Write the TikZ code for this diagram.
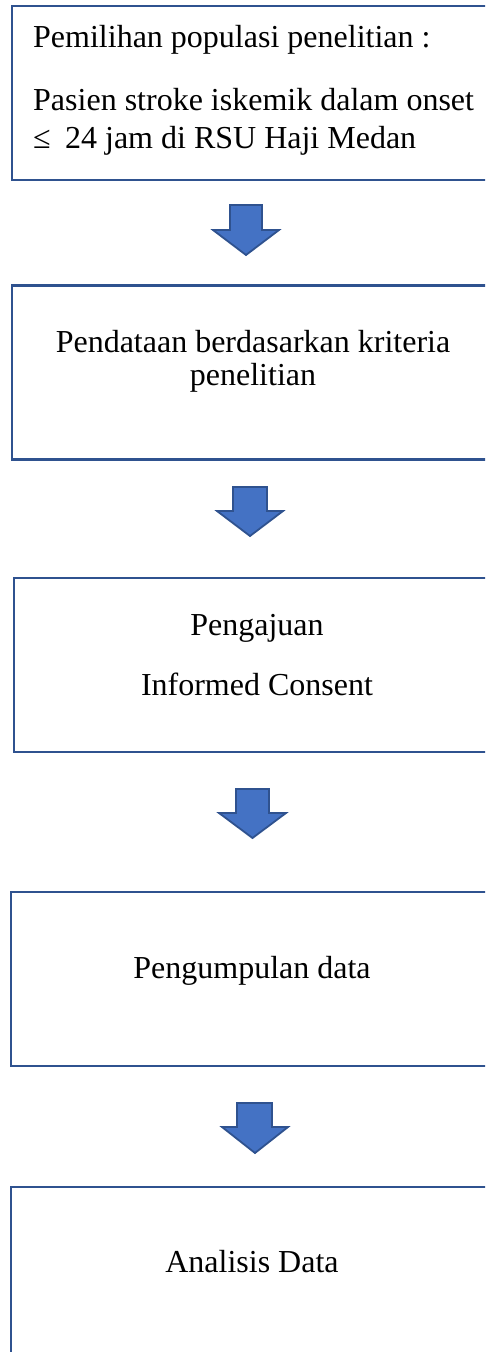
\documentclass[tikz,border=0pt]{standalone}
\usepackage{fontspec}
\setmainfont{Liberation Serif}
\definecolor{boxline}{HTML}{2F528F}
\definecolor{arrowfill}{HTML}{4472C4}
\begin{document}
\begin{tikzpicture}[x=1pt,y=-1pt,
  stage/.style={draw=boxline,line width=2.6pt,rectangle,inner sep=0pt,minimum width=482pt,minimum height=174pt},
  lbl/.style={inner sep=0pt,anchor=base,font=\fontsize{32}{38}\selectfont},
  blockarrow/.style={fill=arrowfill,draw=boxline,line width=1.8pt,line join=miter}]
\useasboundingbox (0,0) rectangle (485,1352);
\clip (0,0) rectangle (485,1352);
\fill[white] (0,0) rectangle (485,1352);

% boxes
\node[stage] (b1) at (253,93) {};
\node[stage] (b2) at (253,372.5) {};
\node[stage,minimum width=484pt] (b3) at (256,665) {};
\node[stage] (b4) at (252,979) {};
\node[stage] (b5) at (252,1274) {};

% texts
\node[lbl,anchor=base west] (t1a) at (33,47) {Pemilihan populasi penelitian :};
\node[lbl,anchor=base west] (t1b) at (33,110) {Pasien stroke iskemik dalam onset};
\node[lbl,anchor=base west] (t1c) at (33,148) {≤\hspace{0.2em} 24 jam di RSU Haji Medan};
\node[lbl] (t2a) at (253,352) {Pendataan berdasarkan kriteria};
\node[lbl] (t2b) at (253,385) {penelitian};
\node[lbl] (t3a) at (257,635) {Pengajuan};
\node[lbl] (t3b) at (257,695) {Informed Consent};
\node[lbl] (t4) at (252,978) {Pengumpulan data};
\node[lbl] (t5) at (252,1272) {Analisis Data};

% block arrows
\draw[blockarrow] (230,205) -- (262,205) -- (262,230) -- (279,230) -- (246,255) -- (213,230) -- (230,230) -- cycle;
\draw[blockarrow] (233,487) -- (267,487) -- (267,511) -- (283,511) -- (250,536) -- (217,511) -- (233,511) -- cycle;
\draw[blockarrow] (236,789) -- (269,789) -- (269,813) -- (286,813) -- (252.5,838) -- (219,813) -- (236,813) -- cycle;
\draw[blockarrow] (237,1103) -- (272,1103) -- (272,1127) -- (288,1127) -- (255,1153) -- (222,1127) -- (237,1127) -- cycle;
\end{tikzpicture}
\end{document}
